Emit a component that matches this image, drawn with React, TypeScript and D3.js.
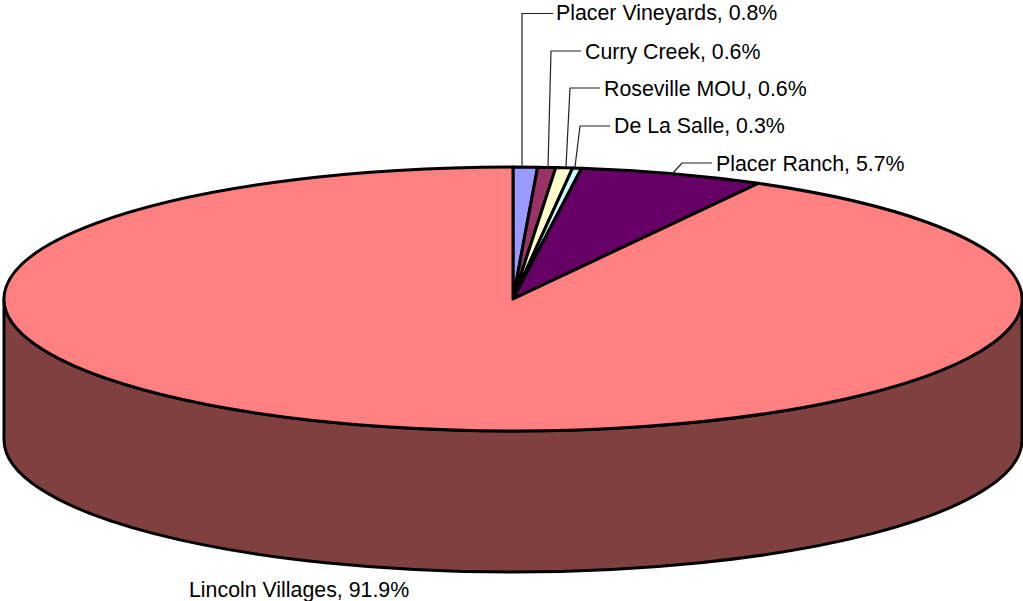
import { useEffect } from "react";
import * as d3 from "d3";

// slice shares (the printed labels are rounded)
const categories = ["Placer Vineyards", "Curry Creek", "Roseville MOU", "De La Salle", "Placer Ranch", "Lincoln Villages"];
const shares = [0.77, 0.57, 0.53, 0.28, 5.85, 92.0];
const shareLabels = ["0.8%", "0.6%", "0.6%", "0.3%", "5.7%", "91.9%"];
const colors = ["#9999FF", "#993366", "#FFFFCC", "#CCFFFF", "#660066", "#FF8080"];
const sideColor = "#804040";

const width = 1023;
const height = 601;
const cx = 513;
const cy = 299;
const rx = 509;
const ry = 132;
const depth = 141;
const outline = 3;

// label text anchor and leader line points, in page pixels
const labelX = [556, 585, 604, 614, 716, 189];
const labelY = [20, 59, 96, 133, 171, 597];
const leaders: [number, number][][] = [
  [[522, 167], [522, 13.5], [553, 13.5]],
  [[548, 167], [551, 51], [581, 51]],
  [[566, 167], [570, 88], [600, 88]],
  [[575, 167], [580, 126], [610, 126]],
  [[671, 175], [682, 163], [712, 163]],
  [],
];

export default function App() {
  useEffect(() => {
    document.body.style.margin = "0";
  }, []);

  const pie = d3.pie<number>().value((d) => d).sort(null);
  // unit circle of radius 100, squashed into the ellipse by a transform
  const arc = d3.arc<d3.PieArcDatum<number>>().innerRadius(0).outerRadius(100);
  const slices = pie(shares);
  const line = d3.line();

  const sidePath =
    `M${cx - rx},${cy} L${cx - rx},${cy + depth} ` +
    `A${rx},${ry} 0 0 0 ${cx + rx},${cy + depth} L${cx + rx},${cy} ` +
    `A${rx},${ry} 0 0 1 ${cx - rx},${cy} Z`;

  return (
    <svg
      width={width}
      height={height}
      style={{ display: "block", background: "#fff" }}
      fontFamily="'Liberation Sans', Arial, sans-serif"
    >
      <path d={sidePath} fill={sideColor} stroke="#000" strokeWidth={outline} />
      <g transform={`translate(${cx},${cy}) scale(${rx / 100},${ry / 100})`}>
        {slices.map((d, i) => (
          <path
            key={categories[i]}
            d={arc(d) ?? ""}
            fill={colors[i]}
            stroke="#000"
            strokeWidth={outline}
            strokeLinejoin="round"
            vectorEffect="non-scaling-stroke"
          />
        ))}
      </g>
      {leaders.map((pts, i) =>
        pts.length ? <path key={i} d={line(pts) ?? ""} fill="none" stroke="#222" strokeWidth={1.2} /> : null
      )}
      {categories.map((c, i) => (
        <text key={c} x={labelX[i]} y={labelY[i]} fontSize={21.33} fill="#000">
          {`${c}, ${shareLabels[i]}`}
        </text>
      ))}
    </svg>
  );
}
